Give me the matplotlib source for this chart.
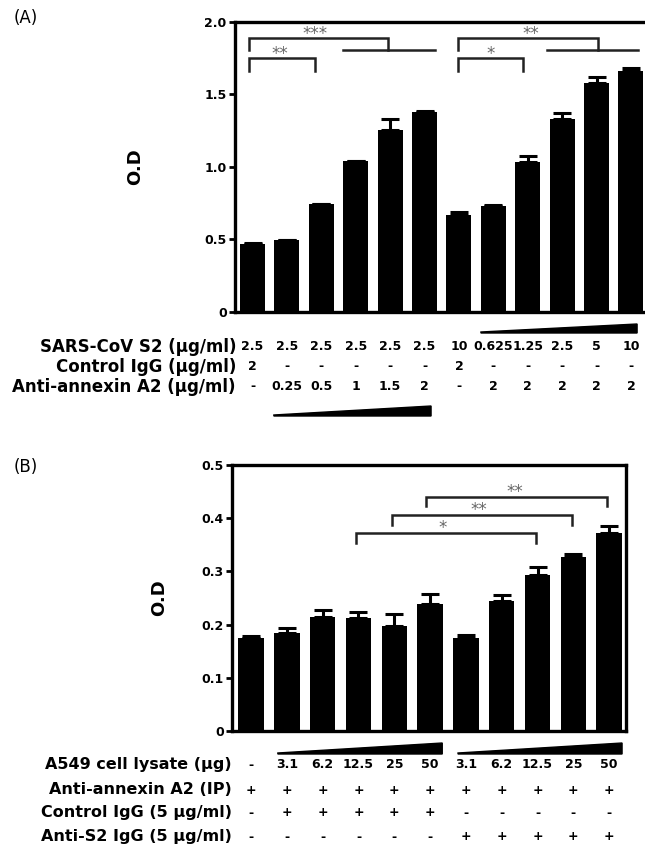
import numpy as np
import matplotlib
matplotlib.use("Agg")
import matplotlib.pyplot as plt
from matplotlib.transforms import blended_transform_factory
from matplotlib.patches import Polygon

# panel A data
a_od = [0.467, 0.494, 0.742, 1.039, 1.253, 1.377, 0.667, 0.729, 1.032, 1.329, 1.579, 1.662]
a_err = [0.010, 0.005, 0.005, 0.005, 0.078, 0.012, 0.020, 0.011, 0.046, 0.043, 0.042, 0.021]
a_sars = ['2.5', '2.5', '2.5', '2.5', '2.5', '2.5', '10', '0.625', '1.25', '2.5', '5', '10']
a_ctrl = ['2', '-', '-', '-', '-', '-', '2', '-', '-', '-', '-', '-']
a_anx = ['-', '0.25', '0.5', '1', '1.5', '2', '-', '2', '2', '2', '2', '2']
a_rows = ['SARS-CoV S2 (\u03bcg/ml)', 'Control IgG (\u03bcg/ml)', 'Anti-annexin A2 (\u03bcg/ml)']

# panel B data
b_od = [0.175, 0.185, 0.214, 0.213, 0.198, 0.239, 0.175, 0.244, 0.294, 0.327, 0.372]
b_err = [0.004, 0.008, 0.013, 0.011, 0.021, 0.018, 0.005, 0.011, 0.014, 0.006, 0.014]
b_lysate = ['-', '3.1', '6.2', '12.5', '25', '50', '3.1', '6.2', '12.5', '25', '50']
b_ip = ['+'] * 11
b_ctrl = ['-', '+', '+', '+', '+', '+', '-', '-', '-', '-', '-']
b_s2 = ['-', '-', '-', '-', '-', '-', '+', '+', '+', '+', '+']
b_rows = ['A549 cell lysate (\u03bcg)', 'Anti-annexin A2 (IP)',
          'Control IgG (5 \u03bcg/ml)', 'Anti-S2 IgG (5 \u03bcg/ml)']

W, H = 645, 851
fig = plt.figure(figsize=(W / 100, H / 100), dpi=100)


def fx(px):
    return px / W


def fy(py):
    return 1 - py / H


def setup(ax, ymax, step):
    ax.set_ylim(0, ymax)
    ax.set_yticks(np.arange(0, ymax + step / 2, step))
    for s in ax.spines.values():
        s.set_linewidth(2.4)
    ax.tick_params(axis='y', direction='out', length=4, width=2, pad=2, labelsize=9)
    ax.tick_params(axis='x', bottom=False, labelbottom=False)
    ax.set_ylabel('O.D', fontsize=13, fontweight='bold')


def bracket(ax, x0, x1, y, yleg0, yleg1, color='#222222'):
    ax.plot([x0, x0, x1, x1], [yleg0, y, y, yleg1], color=color, lw=1.8,
            solid_joinstyle='miter', clip_on=False)


def stars(ax, x, y, s):
    ax.text(x, y, s, ha='center', va='center', fontsize=12, color='#666666')


def wedge(ax, x0, x1, ybot, ytop):
    tr = blended_transform_factory(ax.transData, fig.transFigure)
    p = Polygon([[x0, fy(ybot)], [x1, fy(ybot)], [x1, fy(ytop)], [x0, fy(ybot - 1)]],
                closed=True, color='black', transform=tr, clip_on=False)
    fig.add_artist(p)


def table(ax, rows, cols, ys, xlab, fs_lab, fs_val):
    tr = blended_transform_factory(ax.transData, fig.transFigure)
    for name, vals, y in zip(rows, cols, ys):
        fig.text(fx(xlab), fy(y), name, ha='right', va='center',
                 fontsize=fs_lab, fontweight='bold')
        for i, v in enumerate(vals):
            ax.text(i, fy(y), v, transform=tr, ha='center', va='center',
                    fontsize=fs_val, fontweight='bold', clip_on=False)


# ---- panel A ----
axA = fig.add_axes([fx(235), fy(312), fx(645 - 235) + 0.01, (312 - 22) / H])
xa = np.arange(len(a_od))
axA.bar(xa, a_od, width=0.73, color='black')
axA.errorbar(xa, a_od, yerr=[np.zeros(len(a_err)), a_err], fmt='none',
             ecolor='black', elinewidth=2.2, capsize=6.5, capthick=2.2)
axA.set_xlim(-0.51, 11.41 + 0.01 * W / 34.4)
setup(axA, 2.0, 0.5)
axA.set_yticklabels(['0', '0.5', '1.0', '1.5', '2.0'], fontweight='bold')
axA.spines['right'].set_visible(False)
axA.yaxis.set_label_coords((144 - 235) / 416.5, 0.5)

bracket(axA, -0.1, 1.82, 1.752, 1.662, 1.662)
stars(axA, 0.8, 1.78, '**')
bracket(axA, -0.1, 3.94, 1.890, 1.807, 1.807)
axA.plot([2.63, 5.3], [1.805, 1.805], color='#222222', lw=1.8)
stars(axA, 1.82, 1.918, '***')
bracket(axA, 5.97, 7.87, 1.752, 1.662, 1.662)
stars(axA, 6.92, 1.78, '*')
bracket(axA, 5.97, 10.03, 1.890, 1.807, 1.807)
axA.plot([8.55, 11.2], [1.805, 1.805], color='#222222', lw=1.8)
stars(axA, 8.1, 1.918, '**')

wedge(axA, 6.64, 11.18, 333, 324)
wedge(axA, 0.62, 5.19, 416, 406)
table(axA, a_rows, [a_sars, a_ctrl, a_anx], [347, 367, 387], 236, 12, 9)
fig.text(fx(14), fy(18), '(A)', fontsize=12, va='center', ha='left')

# ---- panel B ----
axB = fig.add_axes([fx(232), fy(731), fx(626 - 232), (731 - 465) / H])
xb = np.arange(len(b_od))
axB.bar(xb, b_od, width=0.71, color='black')
axB.errorbar(xb, b_od, yerr=[np.zeros(len(b_err)), b_err], fmt='none',
             ecolor='black', elinewidth=2.2, capsize=6.5, capthick=2.2)
axB.set_xlim(-0.53, 10.47)
setup(axB, 0.5, 0.1)
axB.set_yticklabels(['0', '0.1', '0.2', '0.3', '0.4', '0.5'], fontweight='bold')
axB.yaxis.set_label_coords((168 - 232) / 394, 0.5)

bracket(axB, 2.93, 7.96, 0.372, 0.354, 0.354)
stars(axB, 5.34, 0.382, '*')
bracket(axB, 3.93, 8.97, 0.406, 0.387, 0.387)
stars(axB, 6.37, 0.416, '**')
bracket(axB, 4.88, 9.93, 0.439, 0.422, 0.422)
stars(axB, 7.37, 0.449, '**')

wedge(axB, 0.75, 5.34, 754, 743)
wedge(axB, 5.78, 10.36, 754, 743)
table(axB, b_rows, [b_lysate, b_ip, b_ctrl, b_s2], [765, 790, 813, 837], 232, 11.5, 9)
fig.text(fx(14), fy(467), '(B)', fontsize=12, va='center', ha='left')

fig.savefig('out.png', dpi=100)
